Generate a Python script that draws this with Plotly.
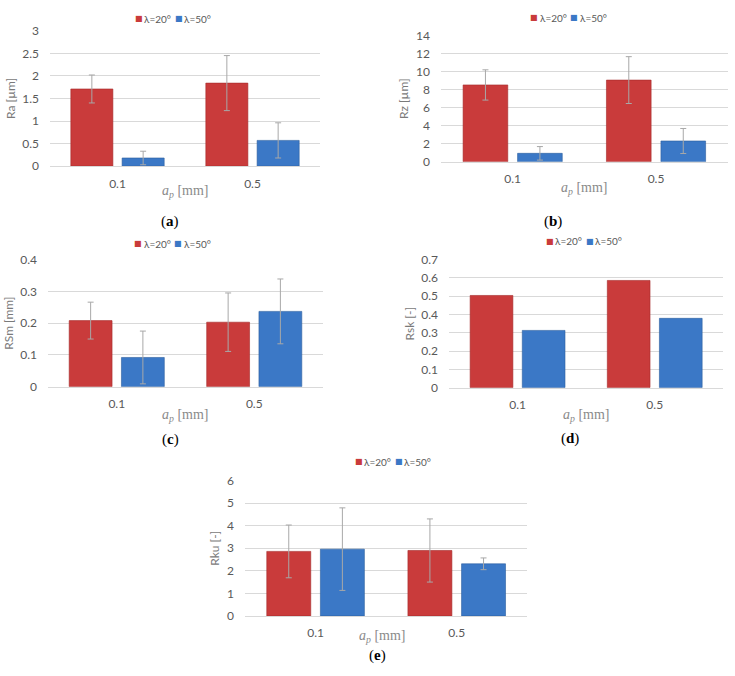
import plotly.graph_objects as go

# ---------------- data ----------------
categories = ["0.1", "0.5"]
series_names = ["λ=20°", "λ=50°"]

Ra_20 = [1.71, 1.84]
Ra_20_err = [0.31, 0.61]
Ra_50 = [0.18, 0.57]
Ra_50_err = [0.15, 0.39]

Rz_20 = [8.53, 9.07]
Rz_20_err = [1.68, 2.60]
Rz_50 = [0.94, 2.31]
Rz_50_err = [0.75, 1.39]

RSm_20 = [0.208, 0.203]
RSm_20_err = [0.058, 0.092]
RSm_50 = [0.092, 0.237]
RSm_50_err = [0.083, 0.102]

Rsk_20 = [0.504, 0.586]
Rsk_50 = [0.313, 0.379]

Rku_20 = [2.86, 2.90]
Rku_20_err = [1.17, 1.40]
Rku_50 = [2.96, 2.31]
Rku_50_err = [1.83, 0.26]

x_title = "<i>a</i><sub><i>p</i></sub> [mm]"
y_titles = ["Ra [µm]", "Rz [µm]", "RSm [mm]", "Rsk [-]", "Rku [-]"]
y_max = [3, 14, 0.4, 0.7, 6]
y_dtick = [0.5, 2, 0.1, 0.1, 1]
captions = ["a", "b", "c", "d", "e"]

# ---------------- styling ----------------
W, H = 735, 676
RED = "#C93B3B"
RED_EDGE = "#A52A2A"
BLUE = "#3B78C6"
BLUE_EDGE = "#2B5E9E"
ERR = "#A8A8A8"
GRID = "#D9D9D9"
TICK = "#595959"
TITLE = "#7A7A7A"
SANS = "Lato"
SERIF = "Liberation Serif"

def px_x(v):
    return v / W

def px_y(v):
    return 1 - v / H

# plot areas in pixels: (left, right, top, bottom)
areas = [
    (50, 320, 23.3, 161.7),
    (441, 727.7, 28.3, 157.3),
    (48, 323, 257.3, 387.3),
    (449, 723.3, 257.3, 388.3),
    (245, 527.3, 483.3, 621.7),
]
legend_pos = [(171.5, 11), (567, 10), (171, 241), (582.5, 238.5), (391.5, 464)]
xtitle_pos = [(185, 188), (584, 185), (185, 417), (586, 417), (383, 643)]
caption_pos = [(170, 218), (553, 218), (170, 441), (570, 440), (378, 662)]

data = [
    (Ra_20, Ra_20_err, Ra_50, Ra_50_err),
    (Rz_20, Rz_20_err, Rz_50, Rz_50_err),
    (RSm_20, RSm_20_err, RSm_50, RSm_50_err),
    (Rsk_20, None, Rsk_50, None),
    (Rku_20, Rku_20_err, Rku_50, Rku_50_err),
]

fig = go.Figure()
layout = dict(
    width=W, height=H,
    margin=dict(l=0, r=0, t=0, b=0),
    paper_bgcolor="white", plot_bgcolor="white",
    barmode="group", bargap=0.24, bargroupgap=0.18,
    showlegend=False,
    font=dict(family=SANS, color=TICK, size=12),
)
annotations = []

def ann(x, y, text, font, xanchor="center"):
    annotations.append(dict(
        xref="paper", yref="paper", x=px_x(x), y=px_y(y),
        xanchor=xanchor, yanchor="middle", showarrow=False,
        text=text, font=font,
    ))

for i, (v20, e20, v50, e50) in enumerate(data):
    n = i + 1
    xa = "x" if n == 1 else f"x{n}"
    ya = "y" if n == 1 else f"y{n}"
    for vals, errs, color, edge, name in [
        (v20, e20, RED, RED_EDGE, series_names[0]),
        (v50, e50, BLUE, BLUE_EDGE, series_names[1]),
    ]:
        fig.add_trace(go.Bar(
            x=categories, y=vals, name=name,
            xaxis=xa, yaxis=ya,
            marker=dict(color=color, line=dict(color=edge, width=0.6)),
            error_y=(dict(type="data", array=errs, color=ERR, thickness=1, width=3, visible=True)
                     if errs is not None else dict(visible=False)),
            showlegend=False,
        ))
    l, r, t, b = areas[i]
    xkey = "xaxis" if n == 1 else f"xaxis{n}"
    ykey = "yaxis" if n == 1 else f"yaxis{n}"
    layout[xkey] = dict(
        domain=[px_x(l), px_x(r)], anchor=ya,
        type="category", showgrid=False, showline=True, linecolor=GRID, linewidth=1,
        ticks="", ticklabelstandoff=6,
        tickfont=dict(family=SANS, size=12, color=TICK),
        fixedrange=True,
    )
    layout[ykey] = dict(
        domain=[px_y(b), px_y(t)], anchor=xa,
        range=[0, y_max[i]], dtick=y_dtick[i], tick0=0,
        showgrid=True, gridcolor=GRID, gridwidth=1,
        zeroline=False, showline=False, ticks="", ticklabelstandoff=10,
        tickfont=dict(family=SANS, size=12, color=TICK),
        title=dict(text=y_titles[i], font=dict(family=SANS, size=12, color=TITLE), standoff=4),
        fixedrange=True,
    )
    # legend: coloured square markers + series labels
    lx, ly = legend_pos[i]
    sq_font_r = dict(family="DejaVu Sans", size=8, color=RED)
    sq_font_b = dict(family="DejaVu Sans", size=8, color=BLUE)
    lab_font = dict(family=SANS, size=10, color=TICK)
    ann(lx - 33, ly, "■", sq_font_r)
    ann(lx - 29.5, ly, series_names[0], lab_font, xanchor="left")
    ann(lx + 7, ly, "■", sq_font_b)
    ann(lx + 10.5, ly, series_names[1], lab_font, xanchor="left")

    tx, ty = xtitle_pos[i]
    ann(tx, ty, x_title, dict(family=SERIF, size=14, color="#8A8A8A"))
    cx, cy = caption_pos[i]
    ann(cx, cy, f"(<b>{captions[i]}</b>)", dict(family=SERIF, size=15, color="black"))

layout["annotations"] = annotations
fig.update_layout(**layout)
fig.write_html("out.html", config={"displayModeBar": False},
               post_script="document.body.style.margin='0';")
